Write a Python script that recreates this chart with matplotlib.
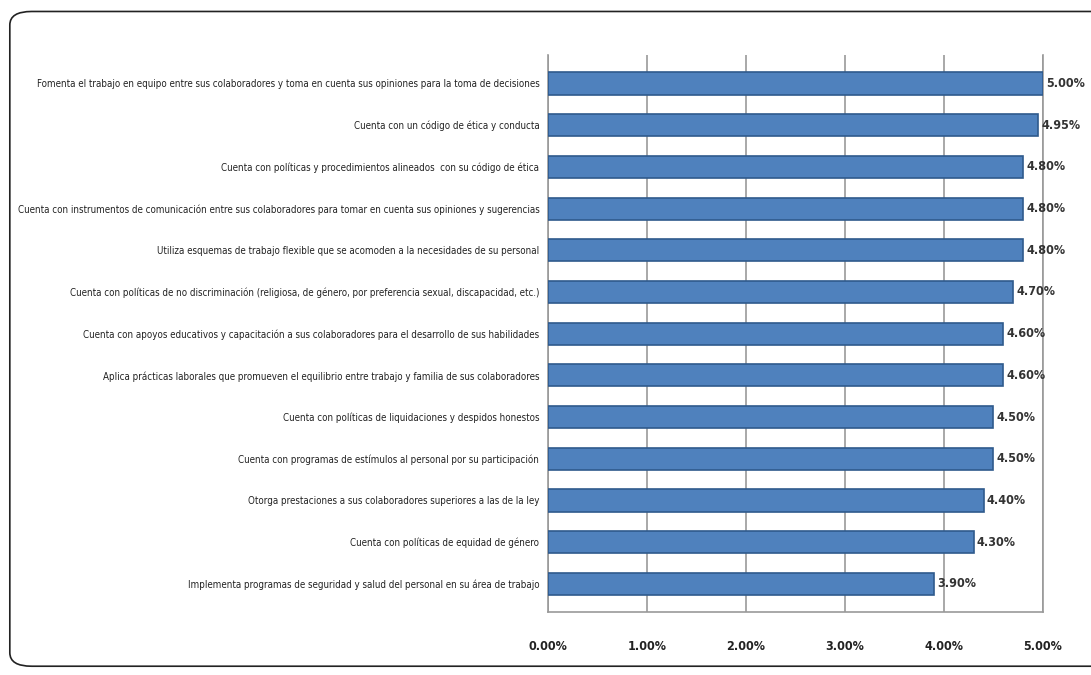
import matplotlib.pyplot as plt
from matplotlib.patches import FancyBboxPatch

# data (top to bottom)
labels = [
    "Fomenta el trabajo en equipo entre sus colaboradores y toma en cuenta sus opiniones para la toma de decisiones",
    "Cuenta con un código de ética y conducta",
    "Cuenta con políticas y procedimientos alineados  con su código de ética",
    "Cuenta con instrumentos de comunicación entre sus colaboradores para tomar en cuenta sus opiniones y sugerencias",
    "Utiliza esquemas de trabajo flexible que se acomoden a la necesidades de su personal",
    "Cuenta con políticas de no discriminación (religiosa, de género, por preferencia sexual, discapacidad, etc.)",
    "Cuenta con apoyos educativos y capacitación a sus colaboradores para el desarrollo de sus habilidades",
    "Aplica prácticas laborales que promueven el equilibrio entre trabajo y familia de sus colaboradores",
    "Cuenta con políticas de liquidaciones y despidos honestos",
    "Cuenta con programas de estímulos al personal por su participación",
    "Otorga prestaciones a sus colaboradores superiores a las de la ley",
    "Cuenta con políticas de equidad de género",
    "Implementa programas de seguridad y salud del personal en su área de trabajo",
]
values = [5.00, 4.95, 4.80, 4.80, 4.80, 4.70, 4.60, 4.60, 4.50, 4.50, 4.40, 4.30, 3.90]
ticks = [0, 1, 2, 3, 4, 5]

plt.rcParams['font.family'] = ['DejaVu Sans']
plt.rcParams['font.stretch'] = 'condensed'

fig = plt.figure(figsize=(10.91, 6.75), dpi=100)
frame = FancyBboxPatch((0.009, 0.013), 1.02, 0.97, boxstyle="round,pad=0,rounding_size=0.02",
                       transform=fig.transFigure, fill=False, edgecolor="#222222", linewidth=1.2)
fig.patches.append(frame)

ax = fig.add_axes([0.502, 0.093, 0.454, 0.826])
y = list(range(len(labels)))
ax.barh(y, values, height=0.53, color="#4F81BD", edgecolor="#2F5A8C", linewidth=1.2, zorder=3)

for yi, v in zip(y, values):
    ax.text(v + 0.03, yi, "{:.2f}%".format(v), va="center", ha="left",
            fontsize=9, fontweight="bold", color="#333333", zorder=4)

ax.set_xlim(0, 5)
ax.set_ylim(12.68, -0.69)
ax.set_yticks(y)
ax.set_yticklabels(labels, fontsize=7.0, color="#222222")
ax.set_xticks(ticks)
ax.set_xticklabels(["{:.2f}%".format(t) for t in ticks], fontsize=9, fontweight="bold", color="#222222")
ax.tick_params(axis="y", length=0, pad=6)
ax.tick_params(axis="x", length=0, pad=20)

ax.grid(axis="x", color="#999999", linewidth=1.2, zorder=0)
ax.spines["top"].set_visible(False)
for s in ["left", "bottom", "right"]:
    ax.spines[s].set_color("#999999")
    ax.spines[s].set_linewidth(1.2)

fig.savefig("out.png", dpi=100)
